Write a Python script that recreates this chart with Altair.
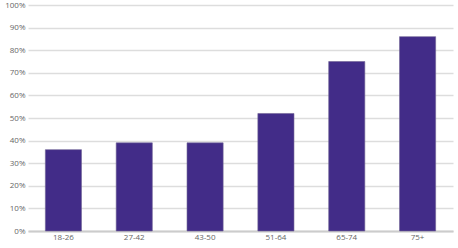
import altair as alt
import pandas as pd

ages = ["18-26", "27-42", "43-50", "51-64", "65-74", "75+"]
values = [36, 39, 39, 52, 75, 86]

df = pd.DataFrame({"age": ages, "value": values})

chart = alt.Chart(df).mark_bar(
    color="#422C88", stroke="#6E6294", strokeWidth=0.6
).encode(
    x=alt.X("age:N", sort=ages, title=None,
            scale=alt.Scale(paddingInner=0.49, paddingOuter=0.245),
            axis=alt.Axis(labelAngle=0, ticks=False, domain=True, domainColor="#cccccc",
                          domainWidth=2, labelColor="#666666", labelFontSize=8,
                          labelFont="Open Sans", labelPadding=2, grid=False)),
    y=alt.Y("value:Q", title=None,
            scale=alt.Scale(domain=[0, 100], nice=False),
            axis=alt.Axis(values=list(range(0, 101, 10)), labelExpr="datum.value + '%'",
                          ticks=False, domain=False, gridColor="#dddddd", gridWidth=1.5,
                          labelColor="#666666", labelFontSize=8, labelFont="Open Sans",
                          labelPadding=3)),
).properties(
    width=425, height=226,
    autosize=alt.AutoSizeParams(type="none"),
    padding={"left": 28, "top": 5, "right": 5, "bottom": 17},
).configure_view(stroke=None)

chart.save("out.html", embed_options={"renderer": "svg", "actions": False})
